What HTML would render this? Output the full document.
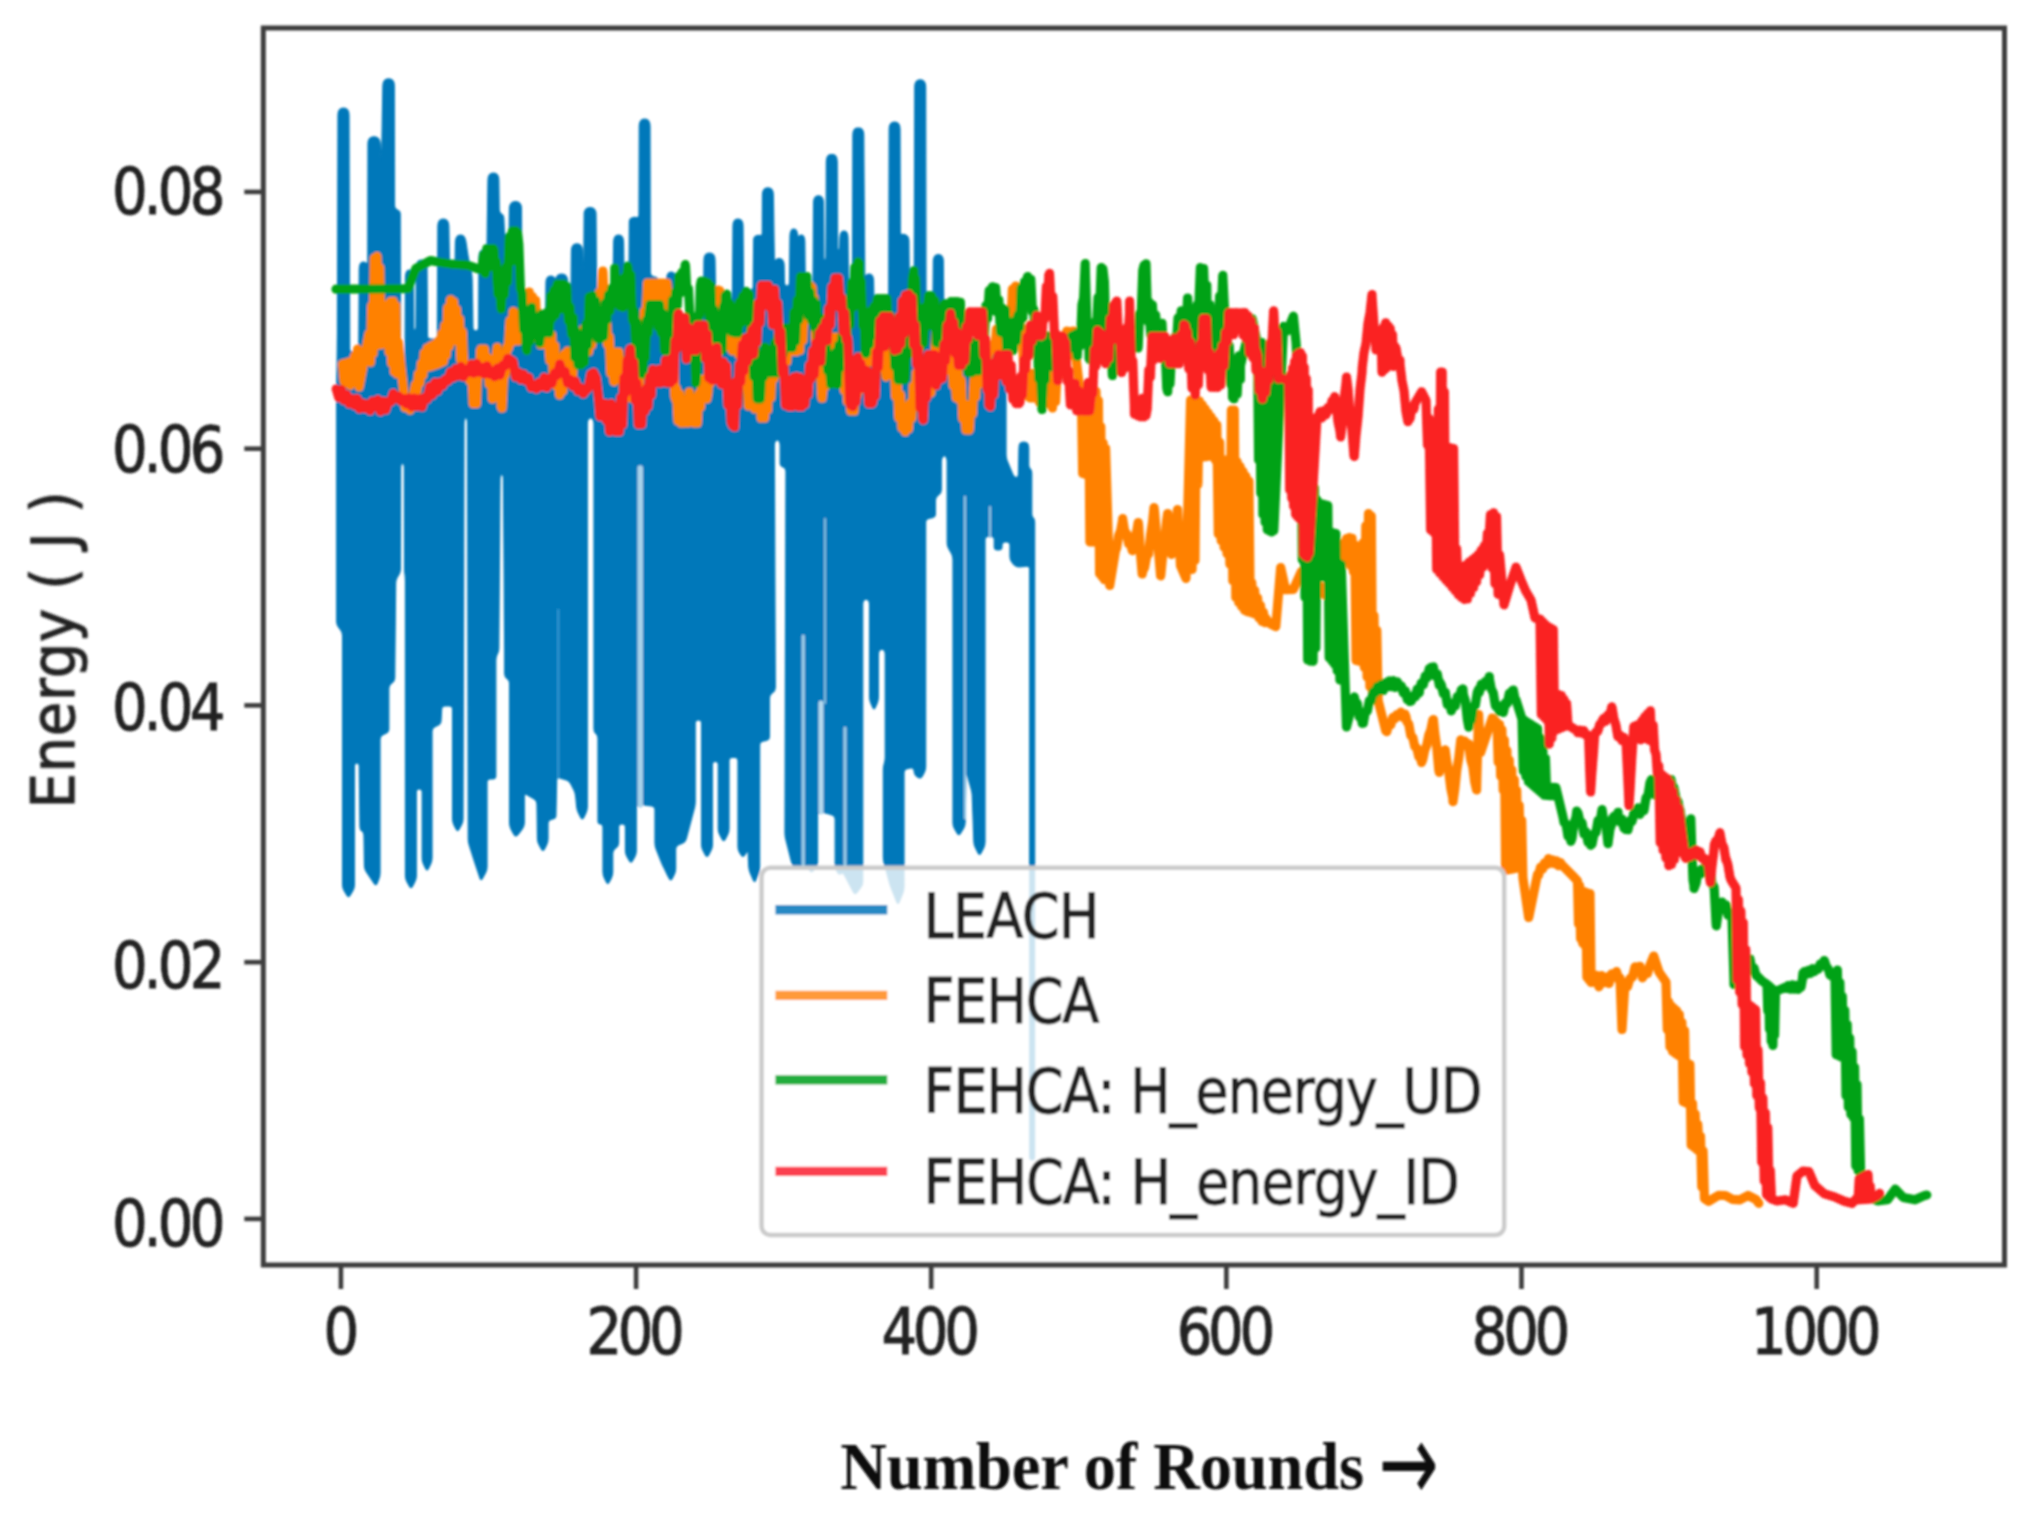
<!DOCTYPE html>
<html lang="en"><head><meta charset="utf-8"><title>Energy vs Number of Rounds</title>
<style>html,body{margin:0;padding:0;background:#fff}body{width:2036px;height:1528px;overflow:hidden}svg{display:block}.t{font-family:"DejaVu Sans","Liberation Sans",sans-serif;fill:#222;stroke:#222;stroke-width:1px;stroke-linejoin:round}.s{font-family:"Liberation Serif","DejaVu Serif",serif;font-weight:bold;fill:#111}.ln{fill:none;stroke-linejoin:round;stroke-linecap:round;stroke-width:9.2}</style></head><body>
<svg width="2036" height="1528" viewBox="0 0 2036 1528">
<defs><filter id="bl" x="-2%" y="-2%" width="104%" height="104%"><feGaussianBlur stdDeviation="1.15"/></filter></defs>
<rect width="2036" height="1528" fill="#fff"/>
<g filter="url(#bl)">
<g id="plot">
<path d="M336.7 398.2Q336.7 395.0 336.7 391.8L337.5 333.2Q337.5 330.0 337.5 326.8L338.0 115.2Q338.0 112.0 339.1 110.4L339.1 110.4Q340.2 108.8 341.9 108.4L341.9 108.4Q343.5 108.0 345.1 108.4L345.1 108.4Q346.8 108.8 347.9 110.4L347.9 110.4Q349.0 112.0 349.0 115.2L349.6 348.8Q349.6 352.0 352.8 352.0L355.6 352.0Q358.8 352.0 358.8 348.8L359.3 269.2Q359.3 266.0 360.1 264.4L360.1 264.4Q361.0 262.8 362.3 262.4L362.3 262.4Q363.6 262.0 364.8 262.4L364.8 262.4Q366.1 262.8 367.0 264.4L367.0 264.4Q367.8 266.0 367.8 262.8L368.0 143.8Q368.0 140.6 369.2 139.0L369.2 139.0Q370.4 137.4 372.2 137.0L372.2 137.0Q374.0 136.6 375.8 137.0L375.8 137.0Q377.6 137.4 378.8 139.0L378.8 139.0Q380.0 140.6 380.2 143.8L381.3 162.8Q381.5 166.0 381.6 162.8L382.9 85.9Q383.0 82.7 384.1 81.1L384.1 81.1Q385.3 79.5 387.0 79.1L387.0 79.1Q388.6 78.7 390.3 79.1L390.3 79.1Q392.0 79.5 393.2 81.1L393.2 81.1Q394.3 82.7 394.3 85.9L394.5 205.8Q394.5 209.0 397.4 210.0L397.3 210.0Q400.2 211.0 400.2 214.2L400.6 381.8Q400.6 385.0 402.8 385.0L402.8 385.0Q405.0 385.0 405.0 381.8L405.5 277.2Q405.5 274.0 406.3 272.4L406.3 272.4Q407.1 270.8 408.2 270.4L408.2 270.4Q409.4 270.0 410.6 270.4L410.6 270.4Q411.7 270.8 412.5 272.4L412.5 272.4Q413.3 274.0 413.3 277.2L413.6 326.8Q413.6 330.0 414.8 330.0L414.8 330.0Q416.0 330.0 416.0 326.8L416.3 267.2Q416.3 264.0 417.4 262.4L417.4 262.4Q418.4 260.8 420.0 260.4L420.0 260.4Q421.6 260.0 423.3 260.4L423.3 260.4Q424.9 260.8 425.9 262.4L425.9 262.4Q427.0 264.0 427.0 267.2L427.5 335.8Q427.5 339.0 430.7 339.0L434.2 339.0Q437.4 339.0 437.4 335.8L437.9 226.2Q437.9 223.0 439.0 221.4L439.0 221.4Q440.1 219.8 441.7 219.4L441.7 219.4Q443.3 219.0 444.9 219.4L444.9 219.4Q446.5 219.8 447.6 221.4L447.6 221.4Q448.7 223.0 448.8 226.2L449.4 264.8Q449.5 268.0 452.2 268.0L452.2 268.0Q455.0 268.0 455.1 264.8L455.5 242.2Q455.6 239.0 456.6 237.4L456.6 237.4Q457.6 235.8 459.0 235.4L459.0 235.4Q460.5 235.0 462.0 235.4L462.0 235.4Q463.4 235.8 464.4 237.4L464.4 237.4Q465.4 239.0 465.9 242.2L467.5 252.8Q468.0 256.0 468.6 259.1L471.4 272.9Q472.0 276.0 472.1 279.2L472.9 327.8Q473.0 331.0 475.8 331.0L475.8 331.0Q478.6 331.0 478.6 327.8L479.0 257.2Q479.0 254.0 479.8 252.4L479.8 252.4Q480.6 250.8 481.8 250.4L481.8 250.4Q483.0 250.0 484.2 250.4L484.2 250.4Q485.4 250.8 486.2 252.4L486.2 252.4Q487.0 254.0 487.0 250.8L488.0 180.2Q488.0 177.0 489.1 175.4L489.1 175.4Q490.2 173.8 491.8 173.4L491.8 173.4Q493.4 173.0 495.0 173.4L495.0 173.4Q496.6 173.8 497.7 175.4L497.7 175.4Q498.8 177.0 498.8 180.2L499.2 209.8Q499.2 213.0 501.4 214.0L501.4 214.0Q503.7 215.0 503.8 218.2L504.6 237.8Q504.7 241.0 506.9 241.0L506.9 241.0Q509.0 241.0 509.1 237.8L509.5 208.7Q509.6 205.5 510.8 203.9L510.8 203.9Q512.0 202.3 513.7 201.9L513.7 201.9Q515.5 201.5 517.3 201.9L517.3 201.9Q519.0 202.3 520.2 203.9L520.2 203.9Q521.4 205.5 521.4 208.7L522.0 331.8Q522.0 335.0 525.2 335.0L542.3 335.0Q545.5 335.0 545.5 331.8L546.0 283.2Q546.0 280.0 547.0 278.4L547.0 278.4Q547.9 276.8 549.4 276.4L549.4 276.4Q550.8 276.0 552.2 276.4L552.2 276.4Q553.7 276.8 554.6 278.4L554.6 278.4Q555.6 280.0 555.7 279.0L555.7 279.0Q555.8 278.0 557.0 276.4L557.0 276.4Q558.1 274.8 559.9 274.4L559.9 274.4Q561.6 274.0 563.4 274.4L563.4 274.4Q565.2 274.8 566.3 276.4L566.3 276.4Q567.5 278.0 567.6 281.2L567.9 296.8Q568.0 300.0 569.5 300.0L569.5 300.0Q571.0 300.0 571.0 296.8L571.5 250.9Q571.5 247.7 572.6 246.1L572.6 246.1Q573.7 244.5 575.3 244.1L575.3 244.1Q576.9 243.7 578.5 244.1L578.5 244.1Q580.1 244.5 581.2 246.1L581.2 246.1Q582.3 247.7 582.4 250.9L582.7 266.8Q582.8 270.0 583.3 270.0L583.3 270.0Q583.8 270.0 583.8 266.8L584.2 214.6Q584.2 211.4 585.4 209.8L585.4 209.8Q586.6 208.2 588.3 207.8L588.3 207.8Q590.1 207.4 591.9 207.8L591.9 207.8Q593.6 208.2 594.8 209.8L594.8 209.8Q596.0 211.4 596.0 214.6L596.6 296.8Q596.6 300.0 599.8 300.0L609.8 300.0Q613.0 300.0 613.0 296.8L613.7 242.2Q613.7 239.0 614.7 237.4L614.7 237.4Q615.7 235.8 617.1 235.4L617.1 235.4Q618.6 235.0 620.1 235.4L620.1 235.4Q621.5 235.8 622.5 237.4L622.5 237.4Q623.5 239.0 623.5 242.2L624.0 276.8Q624.0 280.0 626.5 280.0L626.5 280.0Q629.0 280.0 629.0 276.8L629.4 222.2Q629.4 219.0 631.7 218.0L631.7 218.0Q634.0 217.0 636.5 217.5L636.5 217.5Q639.0 218.0 639.0 214.8L639.3 126.2Q639.3 123.0 640.4 121.4L640.4 121.4Q641.4 119.8 643.0 119.4L643.0 119.4Q644.6 119.0 646.3 119.4L646.3 119.4Q647.9 119.8 648.9 121.4L648.9 121.4Q650.0 123.0 650.0 126.2L650.3 272.8Q650.3 276.0 653.4 276.8L654.9 277.2Q658.0 278.0 658.1 281.2L658.4 296.8Q658.5 300.0 661.7 300.0L663.1 300.0Q666.3 300.0 666.4 296.8L666.7 279.2Q666.8 276.0 667.7 274.4L667.7 274.4Q668.6 272.8 669.9 272.4L669.9 272.4Q671.2 272.0 672.5 272.4L672.5 272.4Q673.8 272.8 674.7 274.4L674.7 274.4Q675.6 276.0 675.6 279.2L676.2 316.8Q676.2 320.0 679.4 320.0L700.3 320.0Q703.5 320.0 703.5 316.8L704.0 260.2Q704.0 257.0 705.1 255.4L705.1 255.4Q706.2 253.8 707.9 253.4L707.9 253.4Q709.5 253.0 711.1 253.4L711.1 253.4Q712.8 253.8 713.9 255.4L713.9 255.4Q715.0 257.0 715.0 260.2L715.6 296.8Q715.6 300.0 718.8 300.0L729.3 300.0Q732.5 300.0 732.5 296.8L733.0 226.2Q733.0 223.0 734.0 221.4L734.0 221.4Q735.0 219.8 736.5 219.4L736.5 219.4Q738.0 219.0 739.5 219.4L739.5 219.4Q741.0 219.8 742.0 221.4L742.0 221.4Q743.0 223.0 743.0 226.2L743.5 286.8Q743.5 290.0 746.7 290.0L750.0 290.0Q753.2 290.0 753.2 286.8L753.7 240.2Q753.7 237.0 755.9 236.0L755.9 236.0Q758.0 235.0 760.1 235.5L760.1 235.5Q762.3 236.0 762.3 232.8L762.5 194.9Q762.5 191.7 763.6 190.1L763.6 190.1Q764.7 188.5 766.3 188.1L766.3 188.1Q767.9 187.7 769.5 188.1L769.5 188.1Q771.1 188.5 772.2 190.1L772.2 190.1Q773.3 191.7 773.3 194.9L774.3 259.2Q774.3 262.4 775.3 260.8L775.3 260.8Q776.2 259.2 777.7 258.8L777.7 258.8Q779.1 258.4 780.6 258.8L780.6 258.8Q782.1 259.2 783.0 260.8L783.0 260.8Q784.0 262.4 784.1 265.6L784.4 282.8Q784.5 286.0 787.0 286.0L787.0 286.0Q789.5 286.0 789.5 282.8L790.0 236.2Q790.0 233.0 790.8 231.4L790.8 231.4Q791.5 229.8 792.6 229.4L792.6 229.4Q793.8 229.0 794.9 229.4L794.9 229.4Q796.0 229.8 796.8 231.4L796.8 231.4Q797.5 233.0 797.6 236.0L797.6 236.0Q797.7 239.0 798.4 237.4L798.4 237.4Q799.1 235.8 800.2 235.4L800.2 235.4Q801.2 235.0 802.3 235.4L802.3 235.4Q803.4 235.8 804.1 237.4L804.1 237.4Q804.8 239.0 804.8 242.2L805.3 286.8Q805.3 290.0 808.5 290.0L809.8 290.0Q813.0 290.0 813.0 286.8L813.6 202.8Q813.6 199.6 814.6 198.0L814.6 198.0Q815.6 196.4 817.0 196.0L817.0 196.0Q818.5 195.6 820.0 196.0L820.0 196.0Q821.4 196.4 822.4 198.0L822.4 198.0Q823.4 199.6 823.4 202.8L823.8 256.8Q823.8 260.0 824.9 260.0L824.9 260.0Q826.0 260.0 826.0 256.8L826.4 161.5Q826.4 158.3 827.5 156.7L827.5 156.7Q828.6 155.1 830.2 154.7L830.2 154.7Q831.8 154.3 833.4 154.7L833.4 154.7Q835.0 155.1 836.1 156.7L836.1 156.7Q837.2 158.3 837.2 161.5L837.6 246.8Q837.6 250.0 838.6 250.0L838.6 250.0Q839.6 250.0 839.7 246.8L839.9 238.2Q840.0 235.0 840.8 233.4L840.8 233.4Q841.6 231.8 842.8 231.4L842.8 231.4Q844.0 231.0 845.2 231.4L845.2 231.4Q846.4 231.8 847.2 233.4L847.2 233.4Q848.0 235.0 848.0 238.2L848.5 286.8Q848.5 290.0 850.5 290.0L850.5 290.0Q852.5 290.0 852.5 286.8L852.9 135.0Q852.9 131.8 854.0 130.2L854.0 130.2Q855.1 128.6 856.7 128.2L856.7 128.2Q858.3 127.8 859.9 128.2L859.9 128.2Q861.5 128.6 862.6 130.2L862.6 130.2Q863.7 131.8 863.7 135.0L864.7 274.8Q864.7 278.0 865.6 276.4L865.6 276.4Q866.5 274.8 867.8 274.4L867.8 274.4Q869.1 274.0 870.4 274.4L870.4 274.4Q871.7 274.8 872.6 276.4L872.6 276.4Q873.5 278.0 873.5 281.2L874.0 306.8Q874.0 310.0 877.2 310.0L885.5 310.0Q888.7 310.0 888.7 306.8L889.2 129.1Q889.2 125.9 890.3 124.3L890.3 124.3Q891.4 122.7 893.0 122.3L893.0 122.3Q894.6 121.9 896.2 122.3L896.2 122.3Q897.8 122.7 898.9 124.3L898.9 124.3Q900.0 125.9 900.0 129.1L900.3 231.8Q900.3 235.0 902.1 234.5L902.1 234.5Q904.0 234.0 906.5 235.5L906.5 235.5Q908.9 237.0 908.9 240.2L909.3 286.8Q909.3 290.0 911.8 290.0L911.8 290.0Q914.3 290.0 914.3 286.8L914.8 86.8Q914.8 83.6 915.9 82.0L915.9 82.0Q917.0 80.4 918.6 80.0L918.6 80.0Q920.2 79.6 921.8 80.0L921.8 80.0Q923.4 80.4 924.5 82.0L924.5 82.0Q925.6 83.6 925.6 86.8L926.0 296.8Q926.0 300.0 929.2 300.0L929.8 300.0Q933.0 300.0 933.0 296.8L933.4 261.7Q933.4 258.5 934.4 256.9L934.4 256.9Q935.4 255.3 936.9 254.9L936.9 254.9Q938.3 254.5 939.8 254.9L939.8 254.9Q941.3 255.3 942.3 256.9L942.3 256.9Q943.3 258.5 943.3 261.7L944.0 341.8Q944.0 345.0 947.2 345.0L1002.8 345.0Q1006.0 345.0 1006.0 348.2L1006.0 454.8Q1006.0 458.0 1007.2 461.0L1012.8 474.5Q1014.0 477.5 1016.2 477.5L1016.2 477.5Q1018.5 477.5 1018.5 474.3L1019.0 448.2Q1019.0 445.0 1020.0 443.5L1020.0 443.5Q1021.0 442.0 1023.8 442.0L1023.8 442.0Q1026.5 442.0 1027.6 443.5L1027.6 443.5Q1028.7 445.0 1028.7 448.2L1028.7 464.8Q1028.7 468.0 1030.2 469.0L1030.2 469.0Q1031.7 470.0 1031.7 473.2L1031.7 513.8Q1031.7 517.0 1033.2 518.0L1033.2 518.0Q1034.6 519.0 1034.6 522.2L1034.6 1156.8Q1034.6 1160.0 1032.2 1160.0L1032.2 1160.0Q1029.7 1160.0 1029.7 1156.8L1029.7 569.2Q1029.7 566.0 1026.5 566.2L1019.2 566.8Q1016.0 567.0 1013.9 564.6L1012.1 562.4Q1010.0 560.0 1010.0 556.8L1010.0 545.2Q1010.0 542.0 1006.8 542.0L1005.2 542.0Q1002.0 542.0 1002.0 545.2L1002.0 546.8Q1002.0 550.0 998.8 550.0L997.5 550.0Q994.3 550.0 994.3 546.8L994.3 539.7Q994.3 536.5 991.1 536.5L988.2 536.5Q985.0 536.5 985.0 539.7L985.0 841.8Q985.0 845.0 983.6 847.9L981.0 852.9Q979.6 855.8 978.1 853.0L975.5 847.8Q974.0 845.0 973.9 841.8L972.3 796.2Q972.2 793.0 971.4 789.9L966.8 773.1Q966.0 770.0 965.9 773.2L965.1 822.8Q965.0 826.0 963.3 828.7L960.5 833.3Q958.8 836.0 957.2 833.2L954.6 828.8Q953.0 826.0 953.0 822.8L953.0 559.2Q953.0 556.0 951.4 553.2L948.8 548.8Q947.2 546.0 947.2 542.8L947.2 461.2Q947.2 458.0 945.9 456.5L945.9 456.5Q944.5 455.0 942.9 456.5L942.9 456.5Q941.3 458.0 941.3 461.2L941.3 489.8Q941.3 493.0 938.7 494.8L938.0 495.2Q935.4 497.0 935.4 500.2L935.4 513.8Q935.4 517.0 932.3 517.6L928.7 518.4Q925.6 519.0 925.6 522.2L925.6 766.8Q925.6 770.0 924.1 772.8L922.2 776.2Q920.7 779.0 918.0 777.3L917.2 776.7Q914.5 775.0 914.2 771.8L914.1 770.6Q913.8 767.4 910.7 768.0L907.1 768.7Q904.0 769.3 904.0 772.5L904.0 886.8Q904.0 890.0 902.8 893.0L899.2 902.0Q898.0 905.0 896.8 902.0L891.2 888.0Q890.0 885.0 889.2 881.9L884.2 863.1Q883.4 860.0 883.4 856.8L883.4 770.2Q883.4 767.0 884.2 763.9L884.5 763.1Q885.3 760.0 885.3 756.8L885.3 654.2Q885.3 651.0 883.6 649.8L883.6 649.8Q882.0 648.5 880.2 649.8L880.2 649.8Q878.4 651.0 878.4 654.2L878.4 696.8Q878.4 700.0 877.2 702.9L875.2 707.5Q874.0 710.4 872.8 707.5L870.8 702.9Q869.6 700.0 869.6 696.8L869.6 604.2Q869.6 601.0 867.8 599.8L867.8 599.8Q866.0 598.5 864.4 599.8L864.4 599.8Q862.7 601.0 862.7 604.2L862.7 881.8Q862.7 885.0 860.7 887.5L857.0 892.5Q855.0 895.0 853.5 892.2L848.5 882.8Q847.0 880.0 845.6 877.1L844.4 874.9Q843.0 872.0 841.0 873.5L841.0 873.5Q839.0 875.0 837.5 872.2L836.7 870.8Q835.2 868.0 835.2 864.8L835.2 819.2Q835.2 816.0 832.2 815.0L827.4 813.5Q824.4 812.5 821.2 812.5L820.7 812.5Q817.5 812.5 817.5 815.7L817.5 861.8Q817.5 865.0 815.6 867.6L813.5 870.4Q811.6 873.0 809.7 870.4L807.6 867.6Q805.7 865.0 803.2 865.0L803.2 865.0Q800.8 865.0 798.6 867.3L798.2 867.7Q796.0 870.0 794.3 867.3L793.7 866.3Q792.0 863.6 791.2 860.5L785.8 839.1Q785.0 836.0 785.0 832.8L786.0 471.2Q786.0 468.0 783.1 467.0L783.1 467.0Q780.2 466.0 780.2 462.8L780.2 445.2Q780.2 442.0 778.8 440.5L778.8 440.5Q777.3 439.0 775.8 440.5L775.8 440.5Q774.3 442.0 774.3 445.2L775.3 687.5Q775.3 690.7 772.7 692.5L772.0 692.9Q769.4 694.7 769.4 697.9L769.4 736.6Q769.4 739.8 766.3 740.4L762.7 741.2Q759.6 741.8 759.6 745.0L759.6 866.8Q759.6 870.0 758.5 873.0L755.7 880.0Q754.6 883.0 753.3 880.1L750.3 872.9Q749.0 870.0 748.8 866.8L748.2 853.2Q748.0 850.0 746.2 852.7L744.7 855.0Q742.9 857.7 741.2 855.0L739.7 852.7Q738.0 850.0 738.0 846.8L738.0 760.7Q738.0 757.5 734.8 757.5L732.2 757.5Q729.0 757.5 729.0 760.7L729.0 828.8Q729.0 832.0 727.5 834.8L725.2 839.2Q723.7 842.0 722.2 839.2L719.8 834.8Q718.3 832.0 718.3 828.8L718.3 764.7Q718.3 761.5 715.3 761.5L715.3 761.5Q712.4 761.5 712.4 764.7L712.4 844.8Q712.4 848.0 710.8 850.8L708.6 854.9Q707.0 857.7 705.4 854.9L703.2 850.8Q701.6 848.0 701.6 844.8L701.6 723.2Q701.6 720.0 698.4 720.0L698.4 720.0Q695.2 720.0 695.2 723.2L695.2 801.5Q695.2 804.7 694.4 807.8L686.2 838.9Q685.4 842.0 682.4 843.2L678.6 844.8Q675.6 846.0 675.6 849.2L675.6 868.8Q675.6 872.0 674.1 874.8L672.2 878.5Q670.7 881.3 669.3 878.4L667.4 874.9Q666.0 872.0 664.6 869.1L663.3 866.5Q661.9 863.6 660.7 860.6L656.2 849.0Q655.0 846.0 655.0 842.8L655.0 809.8Q655.0 806.6 651.8 806.0L647.4 805.3Q644.2 804.7 641.0 804.7L639.5 804.7Q636.3 804.7 636.3 807.9L636.3 850.8Q636.3 854.0 634.8 856.8L632.5 860.8Q631.0 863.6 629.4 860.8L627.1 856.8Q625.5 854.0 625.5 850.8L625.5 827.2Q625.5 824.0 622.3 824.0L621.8 824.0Q618.6 824.0 618.6 827.2L618.6 842.8Q618.6 846.0 616.0 847.8L615.3 848.2Q612.7 850.0 612.7 853.2L612.7 871.8Q612.7 875.0 611.3 877.9L609.2 882.1Q607.8 885.0 606.4 882.1L604.4 877.9Q603.0 875.0 603.0 871.8L603.0 827.2Q603.0 824.0 600.5 824.0L600.5 824.0Q598.0 824.0 598.0 820.8L598.0 738.2Q598.0 735.0 596.0 733.5L596.0 733.5Q594.0 732.0 594.0 728.8L594.0 423.2Q594.0 420.0 592.3 418.5L592.3 418.5Q590.6 417.0 589.0 418.5L589.0 418.5Q587.3 420.0 587.3 423.2L587.3 806.8Q587.3 810.0 585.9 812.9L583.7 817.5Q582.3 820.4 580.8 817.5L578.5 812.9Q577.0 810.0 576.7 806.8L575.7 796.2Q575.4 793.0 574.0 790.1L570.9 783.9Q569.5 781.0 566.4 780.0L559.8 778.0Q556.7 777.0 556.6 780.2L555.9 815.2Q555.8 818.4 552.7 819.0L551.1 819.4Q548.0 820.0 548.0 823.2L548.0 838.8Q548.0 842.0 546.5 844.9L544.5 848.9Q543.0 851.8 541.4 849.0L539.1 844.8Q537.5 842.0 537.5 838.8L537.0 804.0Q537.0 800.8 534.3 799.1L527.0 794.7Q524.3 793.0 524.3 796.2L524.3 822.8Q524.3 826.0 522.4 828.6L518.9 833.4Q517.0 836.0 515.8 836.0L515.8 836.0Q514.5 836.0 513.1 833.1L511.0 828.9Q509.6 826.0 509.6 822.8L509.6 683.2Q509.6 680.0 507.1 678.5L507.1 678.5Q504.7 677.0 504.7 673.8L504.7 656.2Q504.7 653.0 504.7 649.8L503.5 479.2Q503.5 476.0 502.6 475.0L502.6 475.0Q501.7 474.0 500.9 475.0L500.9 475.0Q500.0 476.0 500.0 479.2L498.8 647.8Q498.8 651.0 497.4 653.9L497.2 654.1Q495.8 657.0 495.8 660.2L495.8 775.8Q495.8 779.0 492.6 779.0L490.2 779.0Q487.0 779.0 487.0 782.2L487.0 866.8Q487.0 870.0 485.5 872.8L482.5 878.2Q481.0 881.0 480.0 878.0L475.0 863.0Q474.0 860.0 473.0 856.9L469.3 845.1Q468.3 842.0 468.3 838.8L467.6 423.2Q467.6 420.0 466.7 418.5L466.7 418.5Q465.8 417.0 464.9 418.5L464.9 418.5Q464.0 420.0 464.0 423.2L463.0 818.8Q463.0 822.0 461.5 824.8L459.0 829.2Q457.5 832.0 456.1 829.1L454.0 824.9Q452.6 822.0 452.6 818.8L452.6 709.2Q452.6 706.0 449.4 706.0L445.0 706.0Q441.8 706.0 441.6 709.2L441.0 720.8Q440.8 724.0 437.9 725.3L434.9 726.7Q432.0 728.0 432.0 731.2L432.0 857.8Q432.0 861.0 430.6 863.9L428.4 868.6Q427.0 871.5 425.7 868.6L423.5 863.9Q422.2 861.0 422.2 857.8L422.2 792.2Q422.2 789.0 419.2 789.0L419.2 789.0Q416.3 789.0 416.3 792.2L416.3 875.8Q416.3 879.0 414.8 881.8L412.5 886.2Q411.0 889.0 409.5 886.2L407.0 881.8Q405.5 879.0 405.5 875.8L405.5 581.2Q405.5 578.0 405.1 575.0L405.1 575.0Q404.6 572.0 404.6 568.8L404.4 468.2Q404.4 465.0 403.4 463.8L403.4 463.8Q402.5 462.5 401.6 463.8L401.6 463.8Q400.6 465.0 400.6 468.2L400.4 568.8Q400.4 572.0 398.8 574.7L397.2 577.3Q395.6 580.0 395.6 583.2L394.7 677.8Q394.7 681.0 392.1 682.8L391.4 683.2Q388.8 685.0 388.8 688.2L388.8 728.8Q388.8 732.0 385.9 733.3L382.9 734.7Q380.0 736.0 380.0 739.2L380.0 872.8Q380.0 876.0 378.8 879.0L377.2 883.0Q376.0 886.0 374.2 883.3L366.3 871.7Q364.5 869.0 364.5 865.8L364.0 835.2Q364.0 832.0 362.0 831.0L362.0 831.0Q360.0 830.0 360.0 826.8L359.3 766.2Q359.3 763.0 356.9 763.0L356.9 763.0Q354.4 763.0 354.4 766.2L354.4 884.8Q354.4 888.0 352.8 890.8L350.1 895.2Q348.5 898.0 346.9 895.2L344.2 890.8Q342.6 888.0 342.6 884.8L342.6 635.2Q342.6 632.0 340.5 629.6L338.8 627.4Q336.7 625.0 336.7 621.8Z" fill="#0478ba" stroke="#0478ba" stroke-width="1.2" stroke-linejoin="round"/>
<line x1="558.2" y1="610" x2="558.2" y2="777" stroke="#2b93cf" stroke-width="2.5" stroke-linecap="round"/>
<line x1="640.2" y1="468" x2="640.2" y2="805" stroke="#a9d2ea" stroke-width="5.5" stroke-linecap="round"/>
<line x1="803.2" y1="636" x2="803.2" y2="866" stroke="#9fcde8" stroke-width="3.2" stroke-linecap="round"/>
<line x1="821" y1="703" x2="821" y2="812" stroke="#b5d9ee" stroke-width="5" stroke-linecap="round"/>
<line x1="845" y1="728" x2="845" y2="868" stroke="#9fcde8" stroke-width="3" stroke-linecap="round"/>
<line x1="825" y1="519" x2="825" y2="703" stroke="#7fbde0" stroke-width="2.2" stroke-linecap="round"/>
<line x1="964.9" y1="497" x2="964.9" y2="818" stroke="#8cc4e4" stroke-width="2.4" stroke-linecap="round"/>
<line x1="990" y1="507" x2="990" y2="537" stroke="#8cc4e4" stroke-width="2.2" stroke-linecap="round"/>
<polyline class="ln" stroke="#ff8106" points="342.5,363.9 344.0,381.3 345.5,363.0 347.0,383.3 348.5,362.1 350.0,385.4 351.6,361.1 353.1,379.7 354.6,355.6 356.1,378.8 357.6,349.1 359.1,387.0 369.0,333.7 370.3,362.2 371.7,305.7 373.0,353.3 374.3,258.2 375.7,342.2 377.0,256.4 378.4,345.1 379.7,267.7 381.0,344.6 382.4,304.1 383.7,342.4 385.0,310.4 386.4,343.7 387.7,305.7 389.1,352.2 390.4,301.6 391.7,363.1 393.1,301.3 394.4,371.8 395.7,305.7 397.1,373.9 398.4,342.5 403.0,385.0 405.0,407.5 408.0,403.5 410.0,410.0 415.5,384.5 417.0,390.9 418.4,374.0 419.9,382.9 421.4,363.5 422.8,375.0 424.3,353.0 425.7,367.9 427.2,348.0 428.7,367.0 430.1,346.4 431.6,366.1 433.1,344.8 434.5,365.2 436.0,343.2 437.4,364.2 438.9,340.4 440.4,362.9 441.8,333.4 443.3,361.5 444.8,325.4 446.2,355.2 447.7,307.7 449.1,346.3 450.6,299.8 452.1,341.0 453.5,301.8 455.0,341.0 456.5,309.5 457.9,341.0 459.4,319.1 460.8,360.4 462.3,331.8 463.8,367.4 470.0,381.1 470.0,365.0 471.6,364.1 473.2,403.6 474.7,402.1 474.8,387.3 476.4,403.6 478.0,362.7 479.6,375.1 480.6,350.5 481.2,349.0 482.8,368.1 484.4,349.0 486.0,371.0 487.6,357.4 488.0,365.0 489.2,384.1 490.8,366.2 492.0,388.5 492.4,398.9 494.0,361.0 495.6,374.2 496.8,350.5 497.2,347.5 498.8,384.0 500.4,386.3 501.2,406.5 502.0,408.0 503.6,374.9 505.2,375.0 506.0,360.0 506.8,347.0 508.4,348.2 510.0,320.6 510.0,330.0 511.6,342.4 513.2,311.6 514.5,327.5 514.8,337.9 516.4,319.0 518.0,340.9 519.6,323.3 520.0,333.5 521.2,335.0 522.8,300.5 524.0,305.0 524.4,313.3 526.0,293.5 527.6,313.2 529.2,292.0 529.2,293.5 530.8,316.2 532.4,296.6 533.6,310.0 534.0,324.6 535.6,300.4 537.2,338.5 538.8,313.3 540.0,336.5 540.4,344.6 542.0,318.7 543.6,344.4 545.2,327.4 546.8,345.3 548.4,335.0 548.4,340.0 550.0,360.6 551.6,335.0 553.2,373.5 554.0,360.0 554.8,346.1 556.4,386.2 558.0,363.4 559.6,394.8 560.0,393.3 561.2,373.9 562.8,390.8 564.4,354.0 565.0,355.5 566.0,364.6 567.6,351.0 569.2,371.0 570.8,352.2 572.0,361.5 572.4,379.0 574.0,348.5 575.6,363.0 577.2,346.9 578.8,363.0 580.0,350.0 580.4,341.5 582.0,360.2 583.6,328.6 585.2,352.0 586.8,329.5 588.4,351.5 589.6,337.0 590.0,324.9 591.6,345.1 593.2,315.5 594.8,338.5 596.0,330.0 596.4,309.4 598.0,329.8 599.6,291.8 600.0,300.0 601.2,303.9 602.8,271.0 603.0,272.5 604.4,306.8 606.0,306.8 607.0,330.0 607.6,344.6 609.2,337.1 610.8,373.0 612.0,371.5 612.4,358.1 614.0,381.5 615.6,352.1 617.2,374.7 618.8,352.3 620.0,365.5 620.4,376.8 622.0,364.0 623.6,392.8 625.0,380.0 625.2,371.3 626.8,398.0 628.4,378.4 630.0,398.0 631.6,377.0 633.2,398.0 634.8,381.5 636.0,396.5 636.4,398.0 638.0,368.7 639.6,382.7 641.2,348.8 642.8,352.3 643.0,340.0 644.4,310.9 646.0,319.8 647.6,283.0 649.0,284.5 649.2,293.1 650.8,283.0 652.4,295.4 654.0,283.0 655.6,301.5 656.0,290.5 657.2,283.1 658.8,304.0 660.4,283.0 662.0,302.1 663.6,283.0 665.2,298.6 666.8,283.0 667.0,284.5 668.4,306.9 670.0,294.1 671.6,333.2 672.0,330.0 673.2,333.6 674.8,396.2 676.0,400.0 676.4,388.6 678.0,420.8 679.6,393.9 681.2,423.0 682.8,406.7 684.4,423.0 685.0,421.5 686.0,408.6 687.6,423.0 689.2,392.1 690.0,408.5 690.8,419.7 692.4,400.4 694.0,423.0 695.6,398.3 697.0,416.5 697.2,423.0 698.8,393.5 700.4,406.9 702.0,379.6 703.0,383.5 703.6,391.3 705.2,378.4 706.8,398.8 708.0,391.5 708.4,370.4 710.0,383.4 711.6,347.4 713.2,350.1 714.0,330.0 714.8,317.0 716.4,326.3 718.0,290.2 719.6,307.6 719.6,290.5 721.2,295.7 722.8,336.2 724.0,330.0 724.4,321.7 726.0,346.5 727.6,321.9 729.2,344.9 730.0,340.0 730.8,324.1 732.4,350.9 734.0,332.0 735.6,351.1 737.2,328.5 738.0,345.0 738.8,354.8 740.4,338.5 742.0,370.2 743.6,350.3 745.0,370.0 745.2,380.7 746.8,372.8 748.4,405.9 750.0,382.1 750.0,396.5 751.6,402.6 753.2,374.2 754.8,408.8 756.4,381.1 757.0,388.5 758.0,400.1 759.6,389.2 761.2,418.0 762.0,416.5 762.8,398.2 764.4,418.0 766.0,387.0 767.6,409.7 768.0,395.0 769.2,373.0 770.8,397.6 772.4,359.3 774.0,378.6 775.0,360.0 775.6,358.1 777.2,366.0 778.8,350.5 780.4,373.5 782.0,348.5 783.6,361.5 785.2,348.5 786.8,361.5 788.4,338.5 790.0,351.5 790.0,350.0 791.6,338.5 793.2,351.5 794.8,330.8 796.4,351.5 798.0,324.0 799.6,350.2 800.0,340.0 801.2,314.5 802.8,340.1 804.4,291.9 806.0,307.4 806.0,300.0 807.6,286.0 809.2,309.3 810.8,286.0 812.0,287.5 812.4,298.0 814.0,297.8 815.6,341.1 816.0,330.0 817.2,328.0 818.8,374.9 820.4,371.9 821.8,396.5 822.0,398.0 823.6,379.4 825.2,386.4 826.8,355.7 828.0,360.0 828.4,375.6 830.0,341.1 831.6,361.5 833.2,337.1 834.8,351.6 836.0,338.5 836.4,337.0 838.0,357.3 839.6,343.4 841.2,373.8 842.0,360.0 842.8,350.6 844.4,390.4 846.0,367.0 847.6,401.7 849.2,384.3 850.8,411.0 852.0,409.5 852.4,389.6 854.0,411.0 855.6,377.3 857.2,395.4 858.0,380.0 858.8,371.0 860.4,389.6 862.0,356.9 863.6,373.8 865.2,351.6 866.8,359.4 868.4,342.0 870.0,362.2 870.0,343.5 871.6,342.0 873.2,359.4 874.8,342.0 876.0,345.0 876.4,355.3 878.0,342.0 879.6,367.3 881.2,350.9 882.8,368.0 884.4,352.5 885.0,366.5 886.0,376.8 887.6,352.4 889.2,362.2 890.0,353.5 890.8,352.0 892.4,375.4 894.0,363.0 895.6,396.5 897.0,395.0 897.2,381.8 898.8,417.9 900.4,394.8 902.0,427.8 903.6,413.1 905.2,431.7 905.8,430.2 906.8,407.3 908.4,428.6 910.0,403.1 911.6,418.1 913.0,400.0 913.2,386.0 914.8,406.8 916.4,372.6 918.0,392.4 919.6,362.0 920.0,363.5 921.2,383.1 922.8,362.0 924.4,393.5 926.0,372.6 927.6,393.0 929.2,371.0 930.0,391.5 930.8,393.0 932.4,367.1 934.0,380.7 935.6,332.7 937.2,347.0 938.8,311.6 940.4,323.6 941.0,312.5 942.0,311.1 943.6,342.7 945.2,319.7 946.8,362.0 948.0,350.0 948.4,337.6 950.0,371.1 951.6,356.1 953.2,385.6 954.8,360.2 955.0,380.0 956.4,397.8 958.0,370.2 959.6,399.8 961.0,395.0 961.2,380.4 962.8,418.6 964.4,403.7 966.0,430.0 967.6,416.8 968.4,428.5 969.2,430.0 970.8,404.3 972.4,413.6 974.0,379.8 975.0,380.0 975.6,396.8 977.2,367.4 978.8,384.5 980.4,347.2 982.0,371.2 983.6,347.0 985.0,348.5 985.2,364.8 986.8,345.0 988.4,355.6 990.0,345.0 991.6,350.0 993.2,345.0 994.8,350.0 996.4,329.3 998.0,350.0 999.6,329.5 1000.0,346.5 1001.2,348.0 1002.8,330.7 1004.4,348.0 1006.0,320.3 1007.6,347.6 1008.0,330.0 1009.2,314.8 1010.8,330.7 1012.4,289.1 1014.0,304.0 1015.6,286.0 1015.6,287.5 1017.2,313.6 1018.8,294.0 1020.4,339.1 1021.0,330.0 1022.0,327.8 1023.6,366.3 1025.2,352.0 1026.8,395.8 1027.0,385.0 1028.4,374.2 1030.0,398.0 1031.6,373.5 1033.2,398.0 1034.8,379.4 1035.0,396.5 1036.4,398.0 1038.0,375.9 1039.6,402.6 1041.2,372.0 1042.8,396.9 1044.4,372.0 1045.0,373.5 1046.0,385.6 1047.6,373.3 1049.2,403.8 1050.8,392.4 1052.0,406.5 1052.4,408.0 1054.0,376.1 1055.6,401.5 1057.2,369.3 1058.8,376.0 1060.0,360.0 1060.4,348.0 1062.0,370.4 1063.6,335.5 1065.2,349.5 1066.8,331.0 1067.8,332.5 1068.4,342.9 1070.0,331.6 1071.6,355.3 1073.2,331.0 1074.8,351.5 1075.0,350.0 1081.5,403.6 1082.7,473.4 1083.9,397.0 1085.1,474.3 1086.3,390.4 1087.5,475.2 1088.7,384.1 1089.9,542.0 1091.1,386.5 1092.4,542.0 1093.6,388.9 1094.8,542.0 1096.0,391.3 1097.2,542.0 1098.4,400.4 1099.6,573.8 1100.8,426.6 1102.0,576.8 1103.2,443.0 1104.4,579.7 1105.6,448.3 1109.7,585.4 1115.6,550.0 1116.6,548.2 1118.6,535.8 1120.6,530.8 1122.5,520.5 1122.6,518.6 1124.6,530.8 1126.6,533.7 1128.4,542.2 1128.6,543.8 1130.6,544.0 1132.3,550.5 1132.6,550.6 1134.6,537.1 1136.6,532.0 1138.2,522.5 1138.6,525.1 1140.6,555.1 1142.2,574.0 1142.6,571.4 1144.6,567.4 1146.6,556.5 1148.6,554.0 1149.0,550.0 1150.6,534.6 1152.6,521.7 1154.0,507.5 1154.6,511.7 1156.6,535.8 1158.6,551.8 1160.6,575.8 1160.8,575.0 1162.6,556.1 1164.6,542.2 1166.6,520.6 1167.7,513.5 1168.6,525.5 1170.6,541.5 1171.6,554.4 1172.6,548.0 1174.6,529.1 1176.6,518.9 1177.5,509.5 1178.6,527.8 1180.5,565.7 1186.0,578.5 1190.6,400.0 1192.1,569.5 1193.5,400.0 1195.0,560.5 1196.4,400.0 1197.9,484.4 1199.3,401.2 1200.8,457.3 1202.3,405.2 1203.7,456.9 1205.2,409.2 1206.6,456.6 1208.1,413.2 1209.5,456.2 1211.0,417.2 1212.4,455.9 1213.9,421.2 1215.4,460.1 1216.8,425.2 1218.3,534.0 1219.7,442.2 1221.2,540.6 1222.6,460.0 1224.1,547.1 1225.6,460.0 1227.0,553.7 1228.5,460.0 1229.9,564.1 1231.4,410.0 1232.8,580.7 1234.3,410.0 1235.8,597.4 1237.2,461.7 1238.7,602.5 1240.1,466.5 1241.6,606.4 1243.0,471.4 1244.5,610.3 1245.9,476.2 1247.4,611.6 1248.9,481.1 1250.3,612.5 1251.8,582.9 1253.2,613.3 1254.7,590.5 1256.1,614.6 1257.6,598.0 1259.1,618.1 1260.5,605.6 1262.0,621.5 1263.4,612.2 1264.9,622.6 1266.3,618.6 1267.8,622.6 1269.3,622.1 1270.7,624.1 1275.8,626.6 1280.7,567.5 1285.6,589.7 1293.4,589.3 1301.3,571.5 1308.0,590.0 1315.0,599.5 1321.0,586.5 1325.0,595.0 1330.0,586.3 1331.4,590.1 1332.8,577.6 1334.1,582.8 1335.5,569.0 1336.9,575.6 1338.3,560.4 1339.6,568.3 1341.0,551.7 1342.4,561.0 1343.8,543.1 1345.1,554.2 1346.5,538.5 1347.9,560.0 1349.3,537.7 1350.6,565.7 1352.0,538.3 1353.4,571.5 1354.8,545.1 1356.1,660.4 1357.5,552.0 1358.9,661.1 1360.3,548.3 1361.6,661.7 1363.0,542.9 1364.4,667.4 1365.8,525.8 1367.1,677.0 1368.5,513.6 1369.9,686.6 1371.3,516.0 1372.6,693.4 1374.0,615.5 1375.4,697.5 1376.8,630.6 1378.1,700.3 1385.8,730.8 1386.8,731.7 1388.8,723.7 1390.8,724.8 1392.8,717.4 1393.6,718.5 1394.8,718.7 1396.8,714.6 1398.8,716.2 1400.0,713.5 1400.8,712.2 1402.8,717.3 1404.8,714.0 1405.9,716.4 1406.8,721.4 1408.8,724.4 1410.8,735.5 1411.8,736.5 1412.8,737.6 1414.8,746.5 1416.8,747.9 1418.8,756.6 1420.8,759.0 1421.6,762.5 1422.8,759.3 1424.8,749.9 1426.8,745.0 1428.8,734.9 1430.8,730.0 1432.8,720.0 1433.4,719.5 1434.8,733.5 1436.8,747.5 1438.8,770.0 1439.3,772.3 1440.8,764.6 1442.8,761.2 1444.8,750.0 1445.2,749.8 1446.8,761.5 1448.8,771.9 1450.8,788.3 1452.8,797.9 1453.0,801.7 1454.8,789.2 1456.8,769.7 1458.8,757.7 1460.8,739.8 1460.9,740.0 1462.8,743.4 1464.8,741.1 1466.8,746.0 1468.8,743.9 1468.8,746.3 1470.8,759.9 1472.8,766.7 1474.8,782.3 1476.6,789.9 1476.8,779.9 1478.6,714.5 1478.8,719.4 1480.6,752.5 1492.3,718.0 1497.0,722.5 1498.2,762.1 1499.5,724.6 1500.7,776.1 1501.9,729.8 1503.2,790.1 1504.4,740.1 1505.6,870.3 1506.9,750.4 1508.1,869.8 1509.3,760.1 1510.6,869.4 1511.8,769.8 1513.0,868.9 1514.3,779.4 1515.5,868.4 1516.7,790.3 1518.0,867.8 1519.2,805.5 1520.5,864.7 1521.7,820.7 1522.9,877.7 1528.7,917.5 1537.5,874.3 1538.5,875.3 1540.5,867.3 1542.5,869.2 1543.0,866.0 1544.5,862.9 1546.5,864.8 1548.5,858.6 1549.3,860.0 1550.5,863.1 1552.5,859.9 1554.5,863.6 1556.5,860.8 1558.5,865.7 1560.5,862.6 1561.0,864.0 1572.9,876.0 1577.5,880.9 1578.5,923.8 1579.6,885.9 1580.6,938.7 1581.7,890.8 1582.7,943.1 1583.8,891.6 1584.8,945.5 1585.8,892.3 1586.9,977.3 1587.9,893.0 1589.0,979.9 1590.0,893.6 1591.1,982.5 1592.1,976.2 1596.5,975.4 1599.0,986.8 1601.5,975.5 1604.0,982.6 1606.5,977.0 1609.0,983.5 1611.5,973.9 1614.0,976.9 1616.5,971.5 1619.0,980.1 1620.0,978.0 1622.0,1029.5 1622.0,1029.5 1625.0,982.7 1627.5,986.7 1630.0,978.4 1632.5,977.2 1635.0,966.8 1637.5,970.6 1640.0,966.3 1642.5,977.8 1645.0,973.3 1647.5,973.3 1650.0,965.0 1653.7,956.0 1659.0,972.0 1666.0,982.1 1667.3,1029.7 1668.7,1002.1 1670.0,1046.8 1671.3,1006.2 1672.6,1051.5 1674.0,1008.5 1675.3,1053.3 1676.6,1010.9 1677.9,1055.1 1679.3,1014.6 1680.6,1056.9 1681.9,1022.7 1683.2,1101.6 1684.6,1030.9 1685.9,1102.9 1687.2,1063.1 1688.5,1104.2 1689.9,1064.7 1691.2,1145.1 1692.5,1103.6 1693.8,1147.2 1695.2,1114.2 1696.5,1149.3 1697.8,1124.7 1699.1,1151.5 1700.5,1136.3 1701.8,1187.0 1703.1,1151.2 1704.5,1198.6 1708.7,1201.3 1718.5,1195.4 1725.4,1195.5 1732.3,1199.3 1740.0,1199.8 1748.0,1195.5 1755.8,1199.3 1758.8,1203.3"/>
<polyline class="ln" stroke="#05a212" points="336.0,289.2 372.0,289.0 408.0,288.6 415.8,268.6 430.5,260.5 440.8,262.5 452.6,264.2 467.3,265.1 482.0,270.1 482.0,268.6 483.6,254.6 485.2,273.6 486.0,255.0 486.8,248.5 488.4,267.7 490.0,248.5 491.6,258.6 493.2,248.5 493.9,250.0 494.8,265.6 496.4,261.5 497.0,280.0 498.0,294.2 499.6,290.2 501.0,307.5 501.2,309.0 502.8,277.8 504.4,294.4 506.0,266.7 507.0,270.0 507.6,281.9 509.2,236.6 510.8,262.0 512.0,240.0 512.4,230.8 514.0,257.8 515.6,230.8 517.2,251.5 517.4,232.3 518.8,244.2 520.4,288.8 521.0,290.0 522.0,293.1 523.6,329.8 525.2,318.5 526.3,349.1 526.8,350.6 528.4,319.4 529.0,330.0 530.0,341.5 531.6,307.4 532.0,317.5 533.2,334.6 534.8,316.6 536.0,326.5 536.4,333.7 538.0,317.2 539.6,342.8 541.0,326.5 541.2,314.2 542.8,333.0 544.4,315.8 545.0,331.5 546.0,333.0 547.6,311.7 549.2,333.0 550.0,314.0 550.8,295.6 552.4,318.3 554.0,289.9 555.6,315.0 556.0,300.0 557.2,284.0 558.8,309.8 560.4,284.0 561.6,285.5 562.0,307.5 563.6,284.1 565.2,309.8 566.0,300.0 566.8,286.7 568.4,320.8 570.0,307.0 570.5,323.0 571.6,334.3 573.2,317.7 574.8,357.7 576.0,345.0 576.4,331.5 578.0,365.0 579.6,345.2 581.2,365.0 582.0,363.5 582.8,343.1 584.4,362.2 586.0,323.7 587.0,330.0 587.6,345.1 589.2,296.9 590.8,321.0 592.4,295.7 592.6,297.2 594.0,313.8 595.6,300.7 596.0,320.0 597.2,338.8 598.8,311.2 600.0,337.3 600.4,338.8 602.0,319.8 603.6,336.6 605.2,302.8 606.8,319.9 608.4,294.6 610.0,310.8 611.6,288.3 613.2,297.9 614.7,285.4 614.8,268.1 616.4,298.1 618.0,284.3 619.6,306.4 621.2,283.7 622.0,304.9 622.8,307.4 624.4,277.1 626.0,294.5 627.6,266.2 628.0,267.7 629.2,297.3 630.8,274.9 632.4,319.3 633.9,323.0 634.0,311.2 635.6,344.1 637.2,322.3 638.8,370.9 640.4,351.0 642.0,374.0 642.7,372.5 643.6,354.1 645.2,358.2 646.8,319.7 648.4,332.7 648.6,315.8 650.0,304.5 651.6,319.3 653.2,304.5 654.8,321.7 656.4,304.5 658.0,327.3 659.0,306.0 659.6,304.5 661.2,332.9 662.8,313.1 664.4,350.6 666.0,340.2 666.3,349.1 667.6,350.6 669.2,316.6 670.8,345.3 672.4,300.0 673.7,311.4 674.0,322.3 675.6,292.0 677.2,305.8 678.8,276.2 680.4,293.0 682.0,272.3 683.6,282.8 685.2,264.7 685.5,266.2 686.8,290.7 688.4,288.5 690.0,318.1 691.4,326.0 691.6,320.1 693.2,357.1 694.8,358.4 695.8,383.0 696.4,376.5 698.0,315.5 699.6,314.8 700.2,286.3 701.2,281.0 702.8,294.6 704.4,281.0 706.0,294.2 706.0,282.5 707.6,282.5 709.2,317.4 710.8,285.8 712.4,328.0 714.0,309.5 715.6,338.5 716.4,335.0 717.2,329.8 718.8,350.6 720.4,337.6 720.8,349.1 722.0,350.6 723.6,306.4 725.2,302.3 725.2,295.7 726.8,294.2 728.4,320.8 730.0,303.8 731.6,332.0 733.2,316.5 734.8,333.0 735.6,331.5 736.4,308.2 738.0,333.0 739.6,301.7 741.2,323.1 742.8,296.0 744.4,311.1 746.0,291.3 747.3,292.8 747.6,310.0 749.2,294.3 750.8,339.4 752.4,334.9 753.2,352.6 754.0,377.0 755.6,350.4 757.2,399.0 758.8,377.8 759.0,397.5 760.4,399.0 762.0,360.7 763.6,377.1 765.2,347.0 766.5,348.5 766.8,361.5 768.4,351.4 770.0,372.9 771.0,371.2 771.6,358.9 773.2,372.7 774.8,342.7 776.4,372.7 778.0,336.2 779.6,364.1 781.2,328.0 782.8,354.3 784.2,329.5 784.4,328.0 786.0,343.2 787.6,328.0 789.2,347.7 790.8,335.3 791.5,346.2 792.4,347.7 794.0,312.2 795.6,341.2 797.2,299.9 798.8,319.9 800.4,276.7 802.0,293.1 803.3,278.0 803.6,276.5 805.2,305.4 806.8,276.5 808.4,316.1 810.0,292.0 811.6,320.8 813.2,300.5 813.6,320.0 814.8,327.5 816.4,304.2 818.0,344.2 819.6,318.5 821.0,326.0 821.2,339.3 822.8,318.5 824.4,361.8 826.0,344.9 827.6,370.7 829.2,362.9 830.8,384.5 831.3,383.0 832.4,361.6 834.0,383.5 835.6,351.9 837.2,384.5 838.8,344.9 840.4,367.6 841.6,352.6 842.0,336.2 843.6,350.9 845.2,328.2 846.8,347.3 848.4,303.0 850.0,324.9 850.5,308.4 851.6,282.7 853.2,307.2 854.8,267.2 856.4,296.6 858.0,261.8 859.3,263.3 859.6,277.8 861.2,281.3 862.8,325.8 864.4,325.1 865.2,352.1 866.0,353.6 867.6,330.2 869.2,344.6 870.8,310.4 872.4,335.3 872.6,323.0 874.0,306.1 875.6,329.6 877.2,298.6 878.8,318.3 880.0,302.5 880.4,298.6 882.0,315.4 883.6,298.6 885.2,314.6 886.5,300.1 886.8,298.6 888.4,326.0 890.0,315.2 891.6,341.6 892.0,338.0 893.2,328.3 894.8,366.4 896.2,367.3 896.4,354.3 898.0,380.0 899.6,357.1 901.2,380.0 902.8,361.8 904.4,380.0 905.0,378.5 906.0,348.5 907.6,354.8 909.2,313.0 910.8,318.1 912.4,278.3 913.9,270.5 914.0,289.4 915.6,278.5 917.2,327.4 918.8,315.9 919.8,346.2 920.4,347.7 922.0,322.8 923.6,343.2 925.2,306.5 926.8,326.4 928.4,295.7 930.0,310.1 930.0,297.2 931.6,295.7 933.2,326.3 934.8,300.7 936.4,343.0 938.0,317.4 939.0,341.5 939.6,343.0 941.2,324.2 942.8,343.0 944.4,303.6 946.0,337.2 947.6,305.0 949.2,316.1 950.7,303.1 950.8,301.6 952.4,313.8 954.0,301.6 955.6,319.9 957.2,301.6 958.8,336.6 960.4,302.4 961.0,323.0 962.0,337.0 963.6,320.3 965.2,361.8 966.8,346.0 968.4,372.7 969.9,371.2 970.0,350.4 971.6,372.7 973.2,342.3 974.8,370.6 976.4,343.5 978.0,371.0 979.6,327.5 980.0,345.0 981.2,348.0 982.8,319.1 984.4,338.1 986.0,305.4 987.6,318.3 989.2,290.5 990.8,310.9 992.0,288.3 992.4,286.8 994.0,309.5 995.6,287.7 997.2,312.4 998.8,300.0 1000.4,332.1 1002.0,308.2 1002.3,323.0 1003.6,333.5 1005.2,309.6 1006.8,350.6 1008.4,321.5 1010.0,350.4 1011.6,336.4 1012.6,349.1 1013.2,350.6 1014.8,320.7 1016.4,341.0 1018.0,314.8 1019.6,327.7 1021.2,287.8 1022.8,318.1 1024.4,281.9 1026.0,292.8 1027.3,278.0 1027.6,276.5 1029.2,302.5 1030.8,279.4 1032.4,311.9 1033.2,308.4 1034.0,310.3 1035.6,352.0 1037.2,341.1 1038.8,379.1 1040.4,369.8 1042.0,409.5 1042.0,408.0 1043.6,372.2 1045.2,380.0 1046.8,335.8 1048.0,341.4 1048.4,350.0 1050.0,339.9 1051.6,366.7 1051.8,354.4 1053.2,341.6 1054.8,365.6 1056.4,339.9 1058.0,355.9 1059.6,339.9 1061.2,355.9 1062.0,343.5 1062.8,342.0 1064.4,352.0 1066.0,338.5 1067.6,348.0 1069.2,338.5 1070.8,348.0 1072.4,335.5 1073.4,346.5 1074.0,348.0 1075.6,333.8 1077.2,356.4 1078.8,332.3 1080.0,340.0 1080.4,345.6 1082.0,304.6 1083.6,298.1 1085.2,263.6 1085.2,265.1 1086.8,320.4 1088.4,327.2 1089.1,358.3 1090.0,359.8 1091.6,332.5 1093.2,357.7 1094.8,321.8 1096.4,340.0 1097.0,318.6 1098.0,297.5 1099.6,310.3 1101.2,267.5 1102.8,281.9 1102.9,269.0 1104.4,281.9 1106.0,340.4 1106.8,338.2 1107.6,322.3 1109.2,364.1 1110.8,343.9 1112.4,375.5 1112.7,374.0 1114.0,351.2 1115.6,370.4 1117.2,338.0 1118.6,341.7 1118.8,348.9 1120.4,336.7 1122.0,350.8 1123.6,340.2 1125.2,355.1 1126.8,340.2 1128.0,346.5 1128.4,348.0 1130.0,340.2 1131.6,348.0 1133.2,330.1 1134.8,348.0 1136.4,336.2 1138.0,348.0 1138.2,346.0 1139.6,313.7 1141.2,313.5 1142.8,270.1 1144.1,265.1 1144.4,278.3 1146.0,263.9 1147.6,321.2 1149.2,302.4 1150.0,324.9 1150.8,335.0 1152.4,305.1 1154.0,336.9 1155.6,315.0 1157.2,333.4 1158.8,323.4 1160.4,341.3 1161.8,328.4 1162.0,323.4 1163.6,357.0 1165.2,351.2 1166.8,388.4 1167.7,391.7 1168.4,376.8 1170.0,383.7 1171.6,353.1 1173.2,361.4 1174.8,337.0 1175.6,338.2 1176.4,345.5 1178.0,317.9 1179.6,335.5 1181.2,310.8 1181.5,312.3 1182.8,330.7 1184.4,310.8 1186.0,332.8 1187.6,298.0 1189.2,330.5 1189.3,318.6 1190.8,314.6 1192.4,348.0 1194.0,332.3 1195.2,346.5 1195.6,348.0 1197.2,304.5 1198.8,306.2 1200.4,267.5 1201.1,269.0 1202.0,293.9 1203.6,268.6 1205.2,311.0 1206.8,285.3 1207.0,304.8 1208.4,319.7 1210.0,304.8 1211.6,340.0 1213.2,315.1 1214.8,352.0 1216.4,330.2 1216.8,350.5 1218.0,350.4 1219.6,296.1 1221.2,312.0 1222.7,276.9 1222.8,275.4 1224.4,307.6 1226.0,311.0 1227.6,345.9 1228.6,350.0 1229.2,345.7 1230.8,384.6 1232.4,377.7 1232.5,397.5 1234.0,399.0 1235.6,369.5 1237.2,394.1 1238.8,355.8 1240.4,379.2 1240.4,365.7 1252.2,318.6 1257.5,343.9 1258.6,459.9 1259.7,343.2 1260.8,493.3 1261.9,342.5 1262.9,514.6 1264.0,345.0 1265.1,522.2 1266.2,353.8 1267.3,529.8 1268.4,362.6 1269.5,531.0 1270.6,359.5 1271.6,531.9 1272.7,354.2 1273.8,530.5 1283.6,326.4 1287.5,330.8 1293.4,316.2 1296.0,342.2 1301.0,431.1 1302.3,559.8 1303.7,442.4 1305.0,597.3 1306.4,453.6 1307.7,660.0 1309.0,464.9 1310.4,661.1 1311.7,476.2 1313.1,661.3 1314.4,487.8 1315.8,648.1 1317.1,500.0 1318.4,577.0 1319.8,503.5 1321.1,577.0 1322.5,504.2 1323.8,577.0 1325.1,504.9 1326.5,577.0 1327.8,505.6 1329.2,657.7 1330.5,532.2 1331.9,661.0 1333.2,532.9 1334.5,664.3 1335.9,533.6 1337.2,670.7 1338.6,562.7 1339.9,680.0 1341.2,564.9 1346.5,726.8 1354.3,696.9 1355.3,701.7 1357.3,703.5 1359.3,717.0 1361.3,717.6 1362.2,723.3 1363.3,723.1 1365.3,711.8 1367.3,711.1 1369.3,700.9 1371.3,700.8 1373.3,691.8 1374.0,691.5 1375.3,692.9 1377.3,686.5 1379.3,690.6 1381.3,684.3 1383.3,690.5 1385.3,682.8 1387.3,686.9 1389.3,680.8 1389.7,683.2 1391.3,686.7 1393.3,680.6 1395.3,687.4 1397.3,681.8 1399.3,686.9 1400.0,685.4 1401.3,685.8 1403.3,692.9 1405.3,690.8 1407.3,699.6 1409.3,697.8 1409.8,701.5 1411.3,701.1 1413.3,695.6 1415.3,696.8 1417.3,689.0 1419.3,692.9 1419.6,689.3 1421.3,683.0 1423.3,684.6 1425.3,675.9 1427.3,677.6 1429.3,668.6 1431.3,669.2 1431.4,667.3 1433.3,667.0 1435.3,676.2 1437.3,674.0 1439.3,685.3 1439.3,681.5 1441.3,684.8 1443.3,693.6 1445.3,692.3 1447.3,704.5 1449.3,702.8 1451.0,709.4 1451.3,711.0 1453.3,703.5 1455.3,705.9 1457.3,696.6 1459.3,698.0 1461.3,689.9 1462.9,688.9 1463.3,694.3 1465.3,700.6 1467.3,719.1 1468.8,727.1 1469.3,721.6 1471.3,720.2 1473.3,706.0 1475.3,705.3 1477.3,692.3 1478.6,689.3 1479.3,692.4 1481.3,684.1 1483.3,686.3 1485.3,681.6 1487.3,683.8 1489.3,676.6 1489.4,679.1 1491.3,689.0 1493.3,693.1 1495.3,705.3 1496.3,707.0 1497.3,705.1 1499.3,711.5 1501.3,707.2 1503.3,712.5 1504.0,709.4 1505.3,702.8 1507.3,703.4 1509.3,693.3 1511.3,695.7 1512.0,690.8 1513.3,690.0 1515.3,700.5 1516.0,700.0 1522.0,719.0 1523.3,770.8 1524.6,720.6 1525.9,776.5 1527.2,722.3 1528.5,781.8 1529.8,723.9 1531.1,784.0 1532.4,725.6 1533.7,786.3 1535.0,727.2 1536.3,788.5 1537.6,728.8 1538.9,790.7 1540.2,738.2 1541.5,792.9 1542.8,748.3 1544.1,795.2 1545.4,758.4 1546.7,795.4 1548.0,787.1 1549.3,795.6 1550.7,787.3 1552.0,795.7 1553.3,787.4 1554.6,795.9 1555.9,787.5 1563.0,817.0 1564.0,822.4 1566.0,823.8 1568.0,836.4 1570.0,835.6 1570.9,841.3 1572.0,838.0 1574.0,822.9 1576.0,817.2 1576.8,811.0 1578.0,813.0 1580.0,822.0 1582.0,822.6 1584.0,834.1 1584.0,832.0 1586.0,832.2 1588.0,842.1 1590.0,842.0 1590.6,845.3 1592.0,844.1 1594.0,833.8 1596.0,832.4 1598.0,820.5 1600.0,822.5 1602.0,809.6 1602.4,812.0 1604.0,823.0 1606.0,826.1 1608.0,843.7 1608.3,841.3 1610.0,828.8 1612.0,823.4 1612.2,819.0 1614.0,816.2 1616.0,819.6 1618.0,812.3 1618.0,814.9 1620.0,821.9 1622.0,819.1 1624.0,828.0 1626.0,828.0 1626.0,829.5 1628.0,829.7 1630.0,820.6 1632.0,821.4 1634.0,812.9 1635.8,812.0 1636.0,814.1 1638.0,807.8 1640.0,814.3 1642.0,807.5 1643.6,809.0 1644.0,810.6 1646.0,797.9 1648.0,795.4 1650.0,782.7 1651.5,779.5 1652.0,783.1 1654.0,786.6 1655.4,793.4 1656.0,795.6 1658.0,790.9 1660.0,798.3 1662.0,794.5 1662.0,796.5 1664.0,796.5 1666.0,785.0 1668.0,787.7 1670.0,779.6 1671.0,779.5 1672.0,784.8 1674.0,788.0 1676.0,798.7 1678.0,801.6 1680.0,812.0 1680.0,810.0 1682.0,823.9 1684.0,844.9 1684.0,842.0 1686.0,840.0 1688.0,848.8 1688.0,845.5 1690.0,824.0 1690.8,818.9 1692.0,854.7 1693.0,880.0 1694.0,885.7 1694.0,888.5 1696.0,883.4 1698.0,871.2 1698.0,873.5 1700.0,873.9 1702.0,869.0 1702.6,870.8 1704.0,872.8 1706.0,864.5 1708.0,866.2 1708.0,863.5 1710.0,868.9 1712.0,884.0 1714.0,886.8 1714.3,890.0 1716.0,922.5 1716.3,925.8 1718.0,913.5 1720.0,905.9 1720.0,903.5 1722.0,902.0 1724.0,909.5 1724.2,905.7 1726.0,904.8 1728.0,915.1 1730.0,913.0 1732.0,919.0 1732.0,917.5 1734.0,981.3 1734.0,984.5 1736.0,981.7 1738.0,968.9 1740.0,967.9 1740.0,965.0 1742.0,963.0 1744.0,966.3 1746.0,959.5 1748.0,966.3 1749.7,962.3 1750.0,959.2 1752.0,970.4 1754.0,968.0 1756.0,975.3 1757.6,976.5 1762.0,981.0 1767.0,984.4 1767.8,1010.9 1768.7,985.9 1769.5,1029.1 1770.4,987.3 1771.2,1041.1 1772.1,988.7 1772.9,1045.5 1773.8,990.1 1774.6,1035.0 1775.5,991.6 1785.3,987.2 1786.3,988.3 1788.3,985.5 1790.3,989.2 1792.3,984.8 1794.3,989.2 1796.3,985.3 1798.3,989.3 1800.3,985.6 1801.0,987.2 1802.3,979.7 1803.0,973.0 1804.3,971.7 1806.3,974.3 1808.3,970.4 1810.3,973.5 1812.3,968.7 1814.3,971.5 1816.3,968.5 1816.8,969.5 1818.3,969.2 1820.3,963.9 1822.3,965.7 1824.3,960.5 1824.6,961.2 1826.3,966.5 1828.3,968.9 1830.0,975.0 1835.0,977.8 1836.2,1054.7 1837.4,970.0 1838.7,1055.8 1839.9,982.6 1841.1,1056.9 1842.3,996.6 1843.6,1058.0 1844.8,1010.6 1846.0,1095.6 1847.2,1024.3 1848.4,1107.3 1849.7,1037.9 1850.9,1114.5 1852.1,1051.5 1853.3,1117.7 1854.6,1067.6 1855.8,1166.0 1857.0,1084.4 1858.2,1170.8 1859.4,1119.2 1860.7,1175.6 1866.0,1190.0 1868.0,1196.5 1877.6,1200.9 1887.5,1199.8 1895.3,1189.1 1903.2,1197.4 1915.0,1199.8 1924.8,1195.4 1926.8,1195.0"/>
<polyline class="ln" stroke="#fa2323" points="336.2,389.0 338.8,397.7 341.4,389.7 344.0,400.2 346.6,394.5 349.2,403.7 351.8,398.6 354.4,405.4 357.0,398.5 359.6,408.8 362.2,403.2 364.8,408.3 367.4,404.0 370.0,410.7 372.6,401.1 375.2,407.0 377.8,399.7 380.4,411.4 383.0,401.3 385.6,409.8 388.2,401.4 390.8,401.5 393.4,393.4 396.0,399.0 398.6,396.2 401.2,401.4 403.8,398.5 406.4,404.0 409.0,397.9 411.6,406.8 414.2,398.1 416.8,406.3 419.4,398.7 422.0,407.0 424.6,397.1 427.2,399.1 429.8,386.7 432.4,395.2 435.0,382.5 437.6,390.9 440.2,382.1 442.8,385.6 445.4,379.2 448.0,380.8 450.6,371.8 453.2,377.6 455.8,368.5 458.4,376.0 461.0,366.4 463.6,376.7 466.2,369.4 468.8,372.4 471.4,364.3 474.0,373.1 476.6,363.4 479.2,372.2 481.8,367.3 484.4,374.0 487.0,365.9 489.6,374.3 492.2,371.2 494.8,376.7 497.4,368.1 500.0,375.2 502.6,365.2 505.2,365.8 507.8,358.3 510.4,359.8 513.0,361.6 515.6,377.0 518.2,372.3 520.8,379.5 523.4,374.1 526.0,380.9 528.6,377.6 531.2,387.4 533.8,384.7 536.4,388.9 539.0,382.6 541.6,386.6 544.2,377.4 546.8,387.5 549.4,378.2 552.0,383.4 554.6,372.9 557.2,375.3 559.8,364.0 562.4,372.9 565.0,371.2 567.6,383.2 570.2,379.3 572.8,386.3 575.4,381.1 578.0,390.9 580.6,387.6 583.2,393.8 585.8,390.5 588.4,388.2 591.0,374.0 593.6,372.6 596.2,378.1 598.8,400.8 600.0,416.5 600.0,405.0 601.6,403.5 603.2,416.5 604.8,403.5 606.4,420.4 608.0,404.4 609.6,431.6 610.0,415.0 611.2,403.5 612.8,429.6 614.4,413.5 616.0,431.6 617.6,407.3 619.2,431.6 619.2,430.1 620.8,397.4 622.4,424.5 624.0,377.7 625.6,392.9 627.2,360.2 628.8,362.5 629.5,350.2 630.4,348.7 632.0,377.6 633.6,362.4 635.2,400.5 636.8,383.2 638.4,424.3 639.8,422.8 640.0,411.4 641.6,424.3 643.2,393.1 644.8,411.2 646.4,388.2 648.0,406.3 649.6,376.7 651.2,395.0 651.6,378.2 652.8,369.3 654.4,383.0 656.0,371.2 657.6,383.0 658.0,381.5 659.2,369.4 660.8,383.0 662.4,369.3 664.0,380.9 664.8,370.8 665.6,359.8 667.2,383.0 668.8,366.0 670.4,383.0 672.0,357.6 673.6,380.0 673.7,378.5 675.2,340.4 676.8,349.1 678.0,314.9 678.4,313.4 680.0,329.8 681.6,319.9 683.2,338.6 684.8,317.6 686.4,359.1 688.0,327.3 688.4,349.1 689.6,350.6 691.2,331.9 692.8,350.6 694.4,328.8 696.0,350.6 696.0,345.0 697.6,325.0 699.2,343.9 700.8,325.0 702.4,345.2 703.0,326.5 704.0,325.0 705.6,358.7 707.2,334.1 708.8,378.0 710.4,349.5 712.0,380.0 712.0,378.5 713.6,358.1 715.2,380.0 716.8,347.4 718.0,363.5 718.4,376.1 720.0,362.0 721.6,384.3 723.2,362.0 724.8,382.4 725.0,367.0 726.4,365.9 728.0,405.0 729.6,387.2 731.2,422.2 732.6,425.5 732.8,408.3 734.4,427.0 736.0,381.0 737.6,405.3 739.2,364.4 740.8,381.6 741.4,360.0 742.4,344.4 744.0,370.8 745.6,338.2 747.2,361.5 748.0,355.0 748.8,336.5 750.4,355.6 752.0,329.7 753.6,354.2 754.7,338.0 755.2,325.4 756.8,342.4 758.4,302.9 760.0,322.6 761.6,285.4 763.2,298.7 763.5,286.9 764.8,285.4 766.4,304.6 768.0,285.4 769.6,307.5 771.0,304.9 771.2,296.1 772.8,324.9 774.4,289.5 776.0,318.6 776.8,306.0 777.6,303.4 779.2,341.9 780.8,331.2 782.4,373.0 784.0,367.7 785.6,405.0 785.6,396.8 787.2,379.5 788.8,406.6 790.0,403.5 790.4,389.9 792.0,406.6 793.6,377.4 795.2,389.9 796.0,378.2 796.8,376.7 798.4,406.6 800.0,377.7 801.6,406.6 801.9,405.1 803.2,379.8 804.8,404.3 806.4,379.0 808.0,394.5 809.6,365.1 811.2,378.7 812.8,350.7 813.6,360.0 814.4,374.2 816.0,342.7 817.6,361.5 819.2,332.6 820.0,350.0 820.8,361.5 822.4,327.7 824.0,341.7 825.6,321.3 826.9,323.0 827.2,340.9 828.8,308.1 830.4,324.9 832.0,286.8 833.6,305.5 835.2,278.0 836.8,287.8 837.2,279.5 838.4,278.0 840.0,308.4 841.6,297.8 843.2,332.0 844.8,312.8 846.4,340.0 847.5,337.9 848.0,342.1 849.6,400.5 850.5,405.1 851.2,389.5 852.8,406.6 854.4,374.0 856.0,401.8 857.6,357.0 859.2,387.6 859.3,370.8 860.8,363.6 862.4,388.3 864.0,369.3 865.6,385.9 866.0,380.0 867.2,370.8 868.8,403.6 870.4,385.8 872.0,403.6 872.6,402.1 873.6,382.0 875.2,396.1 876.8,351.7 878.4,367.1 880.0,320.5 880.0,337.9 881.6,346.3 883.2,316.3 884.8,346.6 886.4,316.3 888.0,339.6 888.8,317.8 889.6,316.3 891.2,338.7 892.8,326.1 894.4,350.6 894.7,349.1 896.0,324.2 897.6,349.4 899.2,316.5 900.8,344.0 902.0,320.0 902.4,300.7 904.0,333.7 905.6,295.2 907.2,319.0 908.8,294.2 909.5,295.7 910.4,319.9 912.0,297.7 913.6,344.8 915.2,325.2 916.8,364.5 918.3,367.3 918.4,348.9 920.0,407.8 921.6,385.0 922.7,418.4 923.2,419.9 924.8,382.6 926.4,397.8 928.0,354.6 929.6,378.4 930.0,356.1 931.2,354.6 932.8,370.6 934.4,354.6 936.0,385.4 937.6,357.4 939.0,378.5 939.2,380.0 940.8,362.0 942.4,378.2 944.0,344.1 945.6,360.7 947.2,325.1 948.8,336.5 950.4,313.4 950.7,314.9 952.0,330.4 953.6,322.3 955.2,353.5 956.8,331.5 958.4,365.3 959.6,363.8 960.0,345.6 961.6,365.3 963.2,334.1 964.8,360.7 966.0,335.0 966.4,326.4 968.0,339.3 969.6,311.9 971.2,332.0 972.8,311.9 974.3,313.4 974.4,329.2 976.0,311.9 977.6,335.7 979.2,311.9 980.8,331.5 982.4,311.9 983.0,323.0 984.0,355.4 985.6,339.0 987.2,389.8 988.8,383.6 989.0,405.1 990.4,406.6 992.0,374.6 993.6,394.5 995.2,361.7 996.8,376.3 997.9,356.1 998.4,354.6 1000.0,374.6 1001.6,355.2 1003.2,376.2 1004.8,354.6 1006.4,381.7 1008.0,354.6 1009.6,389.1 1009.7,374.7 1011.2,365.2 1012.8,399.4 1014.4,379.9 1016.0,403.6 1017.6,383.3 1019.2,403.6 1020.0,402.1 1020.8,376.4 1022.4,394.7 1024.0,359.5 1025.6,369.2 1027.2,336.6 1028.8,355.8 1030.3,326.5 1030.4,325.0 1032.0,341.0 1033.6,325.0 1035.2,335.9 1036.8,315.5 1038.4,335.9 1040.0,324.8 1041.6,335.9 1042.0,334.4 1043.2,317.3 1044.8,319.1 1046.4,286.3 1048.0,298.3 1048.8,274.9 1049.6,273.4 1051.2,308.6 1052.8,296.5 1054.0,323.0 1054.4,336.4 1056.0,333.5 1057.6,380.7 1057.7,374.0 1059.2,351.0 1060.8,365.0 1062.4,336.0 1063.6,337.8 1064.0,355.4 1065.6,342.5 1067.2,381.0 1068.8,370.8 1069.5,389.3 1070.4,404.9 1072.0,384.9 1073.6,405.6 1075.2,383.4 1076.8,410.9 1078.4,390.4 1080.0,410.9 1081.3,409.4 1081.6,393.7 1083.2,410.9 1084.8,395.5 1086.4,410.9 1088.0,382.6 1089.6,410.9 1091.0,397.0 1091.2,384.4 1092.8,393.3 1094.4,349.5 1096.0,365.8 1097.6,330.4 1099.0,331.9 1099.2,352.3 1100.8,333.0 1102.4,359.5 1104.0,341.0 1104.8,362.2 1105.6,363.7 1107.2,341.2 1108.8,358.6 1110.4,318.7 1112.0,340.3 1113.6,305.4 1115.2,316.9 1115.6,302.5 1116.8,301.0 1118.4,334.1 1120.0,332.6 1121.6,372.5 1122.5,364.2 1123.2,339.4 1124.8,368.1 1126.4,327.9 1128.0,338.1 1129.4,314.2 1129.6,301.0 1131.2,361.2 1132.8,360.8 1134.3,405.0 1134.4,414.2 1136.0,399.2 1137.6,415.8 1139.2,402.5 1140.8,416.8 1142.4,398.3 1144.0,416.8 1145.6,406.5 1146.0,415.3 1147.2,408.8 1148.8,369.8 1150.4,377.1 1152.0,336.3 1152.0,337.8 1153.6,360.0 1155.2,336.3 1156.8,352.0 1158.0,346.5 1158.4,336.3 1160.0,358.3 1161.6,336.3 1163.2,348.0 1164.8,336.3 1165.7,341.7 1166.4,356.8 1168.0,340.2 1169.6,363.6 1171.2,344.8 1172.8,363.7 1174.4,338.1 1176.0,363.7 1177.5,362.2 1177.6,348.8 1179.2,363.7 1180.8,334.8 1182.4,348.9 1184.0,324.5 1185.4,326.0 1185.6,341.2 1187.2,331.9 1188.8,368.8 1190.4,342.4 1192.0,388.1 1193.6,363.5 1195.2,395.0 1195.2,393.5 1196.8,369.3 1198.4,384.6 1200.0,343.8 1201.6,366.3 1203.2,318.6 1204.8,331.7 1205.0,320.1 1206.4,318.6 1208.0,370.2 1209.6,352.7 1211.0,385.8 1211.2,387.3 1212.8,370.2 1214.4,387.3 1216.0,357.2 1217.6,387.3 1219.2,352.9 1220.7,367.7 1220.8,384.7 1222.4,345.7 1224.0,365.7 1225.6,332.3 1227.2,341.8 1228.6,322.5 1228.8,312.7 1230.4,327.7 1232.0,312.7 1233.6,334.7 1235.2,312.7 1236.8,326.4 1238.4,312.7 1240.0,329.9 1240.4,314.2 1241.6,312.7 1243.2,335.2 1244.8,312.7 1246.4,339.1 1248.0,315.8 1248.3,328.4 1249.6,353.0 1251.2,320.8 1252.8,357.6 1254.4,328.0 1256.0,370.7 1256.0,350.0 1257.6,356.0 1259.2,390.7 1260.8,370.8 1262.0,397.5 1262.4,399.0 1264.0,378.6 1265.6,392.5 1267.2,371.0 1268.0,377.5 1268.8,380.3 1270.4,342.8 1272.0,342.5 1273.6,310.8 1273.8,312.3 1275.2,342.2 1276.8,331.7 1278.4,379.0 1279.7,377.5 1288.8,380.9 1289.7,490.0 1290.7,374.5 1291.7,498.2 1292.6,368.1 1293.6,506.3 1294.6,361.6 1295.6,514.5 1296.5,355.2 1297.5,516.8 1298.5,353.3 1299.5,518.7 1300.4,352.5 1301.4,520.6 1302.4,355.9 1303.4,554.3 1304.3,367.2 1305.3,556.2 1306.3,378.5 1307.3,557.3 1308.2,389.8 1309.2,552.9 1317.0,416.8 1318.0,419.3 1320.0,411.6 1322.0,417.9 1324.0,410.5 1326.0,414.8 1326.8,412.9 1328.0,407.5 1330.0,409.7 1332.0,400.7 1334.0,402.0 1334.7,396.7 1336.0,403.7 1338.0,421.8 1340.0,431.0 1340.6,436.9 1342.0,425.4 1344.0,399.4 1346.0,383.7 1346.5,377.1 1348.0,388.5 1350.0,415.2 1352.0,430.3 1354.0,456.4 1354.3,456.5 1356.0,435.0 1358.0,417.1 1360.0,389.3 1362.0,372.8 1362.2,367.7 1364.0,352.5 1366.0,343.4 1368.0,323.4 1370.0,312.5 1372.0,294.5 1372.0,296.5 1374.0,324.8 1376.0,348.2 1376.0,350.0 1378.0,346.4 1380.0,333.6 1381.0,332.5 1382.0,372.2 1382.1,372.1 1383.3,327.3 1384.0,350.9 1384.4,369.7 1385.6,322.9 1386.0,340.6 1386.7,367.5 1387.9,325.8 1388.0,325.5 1389.0,365.7 1390.0,338.6 1390.2,328.6 1391.3,364.1 1392.0,345.4 1392.5,334.8 1393.6,366.3 1394.0,362.7 1394.7,346.2 1396.0,348.1 1398.0,360.1 1400.0,360.4 1400.0,364.3 1402.0,380.9 1404.0,390.6 1406.0,411.7 1407.9,421.7 1408.0,418.2 1410.0,418.7 1412.0,406.8 1414.0,409.0 1414.7,403.6 1421.6,391.8 1426.0,400.3 1427.5,445.2 1429.1,418.5 1430.6,530.0 1432.1,427.0 1433.7,532.4 1435.2,427.0 1436.7,569.4 1438.3,409.1 1439.8,573.3 1440.6,372.0 1441.3,385.8 1442.2,372.0 1442.9,576.7 1444.4,391.7 1445.9,580.1 1447.5,447.1 1449.0,583.5 1450.5,447.8 1452.1,587.1 1453.6,448.5 1455.1,590.8 1456.7,549.0 1458.2,594.6 1459.8,566.0 1461.3,597.3 1462.8,570.9 1464.4,599.4 1465.9,565.0 1467.4,599.0 1469.0,562.1 1470.5,593.2 1472.0,559.8 1473.6,587.5 1475.1,557.5 1476.6,581.8 1478.2,554.5 1479.7,574.7 1481.2,550.1 1482.8,567.2 1484.3,545.8 1485.8,559.8 1487.4,533.1 1488.9,542.5 1490.4,514.7 1492.0,568.1 1493.5,512.8 1495.0,583.8 1496.6,516.8 1498.1,594.3 1499.6,555.0 1504.0,604.8 1510.0,585.0 1516.0,567.1 1521.0,580.0 1525.7,591.0 1531.0,600.0 1535.0,618.0 1540.0,619.3 1541.3,714.5 1542.7,621.8 1544.0,717.2 1545.3,624.4 1546.7,720.0 1548.0,626.5 1549.3,744.1 1550.7,628.0 1552.0,737.9 1553.3,629.5 1554.6,730.5 1556.0,693.6 1557.3,729.5 1558.6,694.5 1560.0,728.4 1561.3,695.5 1562.6,727.3 1564.0,699.6 1565.3,726.2 1566.6,703.6 1568.0,725.0 1576.8,730.6 1577.8,732.6 1579.8,730.0 1581.8,733.2 1583.0,731.5 1583.8,730.6 1585.8,735.2 1587.8,734.8 1588.6,736.5 1589.8,771.5 1590.6,791.9 1591.8,773.8 1593.8,748.0 1594.5,736.5 1595.8,731.9 1597.8,731.3 1599.8,724.3 1601.8,723.4 1602.4,720.3 1603.8,718.2 1605.8,721.1 1607.0,718.5 1607.8,715.2 1609.8,715.6 1611.8,706.8 1612.2,708.5 1613.8,718.3 1615.8,724.6 1617.8,736.6 1618.0,736.5 1619.8,735.1 1621.8,740.5 1623.8,737.4 1625.8,741.8 1626.0,740.4 1627.8,778.1 1629.0,805.5 1629.8,794.3 1631.8,757.7 1633.8,726.6 1639.0,724.6 1640.4,739.8 1641.8,720.7 1643.2,738.4 1644.7,716.8 1646.1,738.8 1647.5,713.8 1648.9,740.0 1650.3,710.8 1651.8,741.6 1653.2,725.4 1654.6,750.1 1656.0,754.0 1657.4,773.9 1658.8,766.1 1660.2,842.6 1661.7,774.7 1663.1,850.3 1664.5,776.7 1665.9,858.0 1667.3,778.6 1668.8,865.7 1670.2,783.2 1671.6,864.5 1673.0,791.5 1674.4,859.3 1675.8,799.8 1677.2,852.9 1678.7,808.0 1684.9,856.6 1685.9,858.3 1687.9,852.8 1689.9,856.6 1691.0,853.5 1691.9,852.0 1693.9,854.7 1695.9,850.0 1697.9,855.6 1698.6,852.7 1699.9,851.7 1701.9,858.2 1703.0,858.5 1703.9,857.9 1705.9,862.0 1707.9,859.9 1708.4,862.1 1709.9,879.7 1710.4,882.5 1711.9,866.8 1713.9,850.8 1714.3,844.8 1715.9,840.8 1717.9,839.7 1719.9,832.7 1720.2,834.5 1721.9,843.7 1723.9,847.6 1725.9,860.0 1726.0,858.6 1727.9,864.7 1729.9,876.8 1731.0,880.0 1736.0,888.0 1737.2,979.9 1738.4,899.5 1739.7,992.1 1740.9,911.0 1742.1,1004.4 1743.3,922.4 1744.6,1046.8 1745.8,949.2 1747.0,1055.3 1748.2,1004.1 1749.5,1063.7 1750.7,1006.0 1751.9,1072.1 1753.1,1007.8 1754.4,1083.6 1755.6,1009.7 1756.8,1095.8 1758.0,1050.0 1759.3,1107.9 1760.5,1083.0 1761.7,1162.3 1762.9,1097.9 1764.2,1180.9 1765.4,1112.7 1766.6,1194.8 1767.8,1127.6 1769.1,1197.1 1770.3,1170.5 1771.5,1199.0 1777.0,1201.0 1785.3,1199.8 1793.2,1203.3 1797.0,1176.0 1803.0,1171.0 1808.9,1171.5 1814.8,1185.6 1824.6,1193.9 1834.4,1196.9 1844.3,1201.3 1852.0,1203.3 1857.0,1197.8 1858.1,1199.9 1859.2,1178.9 1860.3,1199.7 1861.4,1177.6 1862.5,1199.6 1863.6,1176.4 1864.7,1199.5 1865.8,1175.2 1866.9,1199.3 1868.0,1174.7 1869.1,1199.2 1870.2,1186.2 1871.3,1199.0 1877.0,1196.0 1879.6,1193.4"/>
</g>
<rect x="761.6" y="867.7" width="742.6" height="367.3" rx="9" ry="9" fill="#fff" fill-opacity="0.8" stroke="#cbcbcb" stroke-width="4.4"/>
<line x1="775.4" y1="909.7" x2="887.3" y2="909.7" stroke="#2589c4" stroke-width="9.4"/>
<text class="t" transform="translate(923.5,938.4) scale(0.88,1)" font-size="61.7" textLength="200.0" lengthAdjust="spacing" fill="#111" stroke="#111">LEACH</text>
<line x1="775.4" y1="995.4" x2="887.3" y2="995.4" stroke="#ff9a3a" stroke-width="9.4"/>
<text class="t" transform="translate(923.5,1022.9) scale(0.88,1)" font-size="61.7" textLength="200.0" lengthAdjust="spacing" fill="#111" stroke="#111">FEHCA</text>
<line x1="775.4" y1="1079.9" x2="887.3" y2="1079.9" stroke="#22ad3c" stroke-width="9.4"/>
<text class="t" transform="translate(923.5,1113.3) scale(0.88,1)" font-size="61.7" textLength="635.2" lengthAdjust="spacing" fill="#111" stroke="#111">FEHCA: H_energy_UD</text>
<line x1="775.4" y1="1171.4" x2="887.3" y2="1171.4" stroke="#fb4050" stroke-width="9.4"/>
<text class="t" transform="translate(923.5,1203.6) scale(0.88,1)" font-size="61.7" textLength="609.5" lengthAdjust="spacing" fill="#111" stroke="#111">FEHCA: H_energy_ID</text>
<rect x="263.3" y="28.0" width="1741.2" height="1237.0" fill="none" stroke="#3d3d3d" stroke-width="5"/>
<line x1="340.9" y1="1265.0" x2="340.9" y2="1289.0" stroke="#3d3d3d" stroke-width="4.6"/>
<text class="t" transform="translate(323.4,1353.6) scale(0.87,1)" font-size="64.5" textLength="39.1" lengthAdjust="spacing" stroke-width="0.25">0</text>
<line x1="636.1" y1="1265.0" x2="636.1" y2="1289.0" stroke="#3d3d3d" stroke-width="4.6"/>
<text class="t" transform="translate(586.4,1353.6) scale(0.87,1)" font-size="64.5" textLength="113.1" lengthAdjust="spacing" stroke-width="0.25">200</text>
<line x1="931.2" y1="1265.0" x2="931.2" y2="1289.0" stroke="#3d3d3d" stroke-width="4.6"/>
<text class="t" transform="translate(881.5,1353.6) scale(0.87,1)" font-size="64.5" textLength="113.1" lengthAdjust="spacing" stroke-width="0.25">400</text>
<line x1="1226.4" y1="1265.0" x2="1226.4" y2="1289.0" stroke="#3d3d3d" stroke-width="4.6"/>
<text class="t" transform="translate(1176.7,1353.6) scale(0.87,1)" font-size="64.5" textLength="113.1" lengthAdjust="spacing" stroke-width="0.25">600</text>
<line x1="1521.5" y1="1265.0" x2="1521.5" y2="1289.0" stroke="#3d3d3d" stroke-width="4.6"/>
<text class="t" transform="translate(1471.8,1353.6) scale(0.87,1)" font-size="64.5" textLength="113.1" lengthAdjust="spacing" stroke-width="0.25">800</text>
<line x1="1816.7" y1="1265.0" x2="1816.7" y2="1289.0" stroke="#3d3d3d" stroke-width="4.6"/>
<text class="t" transform="translate(1750.9,1353.6) scale(0.87,1)" font-size="64.5" textLength="150.1" lengthAdjust="spacing" stroke-width="0.25">1000</text>
<line x1="244.3" y1="1218.9" x2="263.3" y2="1218.9" stroke="#3d3d3d" stroke-width="4.6"/>
<text class="t" transform="translate(112.0,1246.4) scale(0.87,1)" font-size="64.5" textLength="130.3" lengthAdjust="spacing" stroke-width="0.25">0.00</text>
<line x1="244.3" y1="962.2" x2="263.3" y2="962.2" stroke="#3d3d3d" stroke-width="4.6"/>
<text class="t" transform="translate(112.0,988.3) scale(0.87,1)" font-size="64.5" textLength="130.3" lengthAdjust="spacing" stroke-width="0.25">0.02</text>
<line x1="244.3" y1="705.4" x2="263.3" y2="705.4" stroke="#3d3d3d" stroke-width="4.6"/>
<text class="t" transform="translate(112.0,730.2) scale(0.87,1)" font-size="64.5" textLength="130.3" lengthAdjust="spacing" stroke-width="0.25">0.04</text>
<line x1="244.3" y1="448.7" x2="263.3" y2="448.7" stroke="#3d3d3d" stroke-width="4.6"/>
<text class="t" transform="translate(112.0,472.1) scale(0.87,1)" font-size="64.5" textLength="130.3" lengthAdjust="spacing" stroke-width="0.25">0.06</text>
<line x1="244.3" y1="191.9" x2="263.3" y2="191.9" stroke="#3d3d3d" stroke-width="4.6"/>
<text class="t" transform="translate(112.0,214.0) scale(0.87,1)" font-size="64.5" textLength="130.3" lengthAdjust="spacing" stroke-width="0.25">0.08</text>
<text class="t" transform="translate(74.2,808.6) rotate(-90) scale(0.93,1)" font-size="60.4" stroke-width="0.5" textLength="341.4" lengthAdjust="spacing">Energy ( J )</text>
<text class="s" transform="translate(840.2,1488.5) scale(0.95,1)" font-size="68" textLength="551.6" lengthAdjust="spacing" >Number of Rounds</text>
<text transform="translate(1378.8,1500.8) scale(0.645,1)" font-size="111" font-family="'DejaVu Sans',sans-serif" font-weight="normal" fill="#0a0a0a">→</text>
</g>
</svg></body></html>
